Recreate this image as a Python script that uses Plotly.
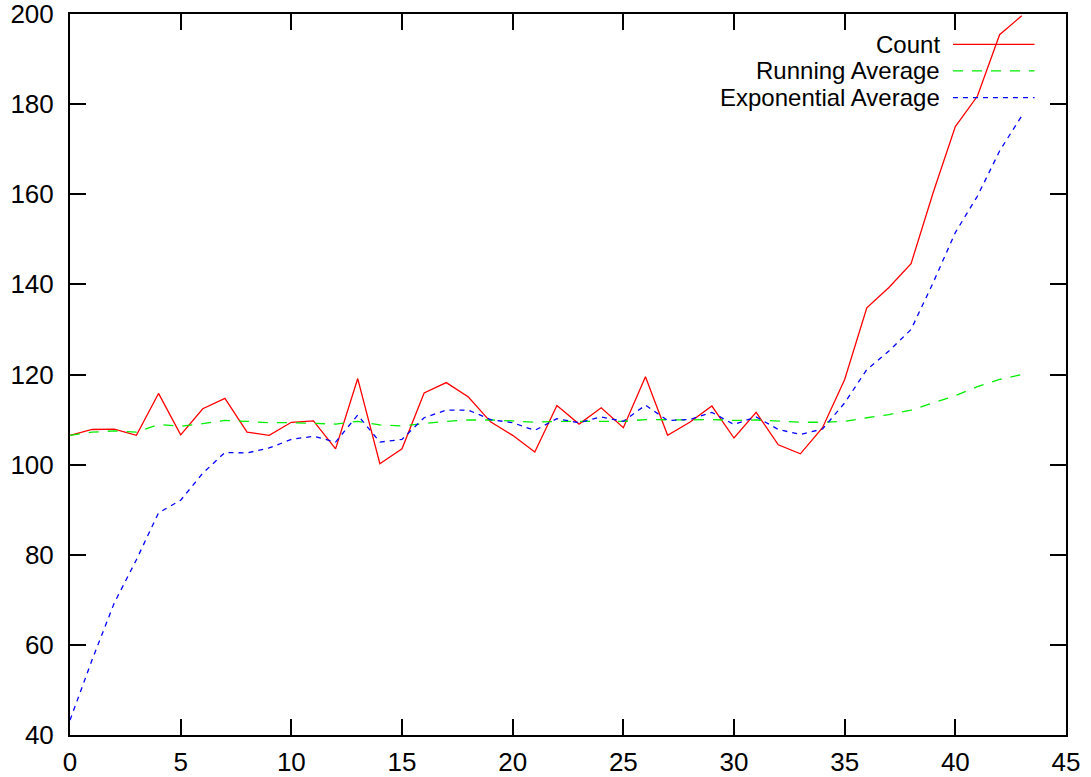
import plotly.graph_objects as go

# Sample index
steps = list(range(44))

# Raw counts per step
count = [106.5, 107.8, 107.9, 106.5, 115.8, 106.6, 112.4, 114.7, 107.2, 106.5,
         109.4, 109.7, 103.5, 119.1, 100.2, 103.5, 115.9, 118.2, 115.0, 109.5,
         106.5, 102.8, 113.1, 109.0, 112.6, 108.2, 119.5, 106.5, 109.4, 113.0,
         105.9, 111.6, 104.4, 102.4, 108.2, 118.9, 134.8, 139.3, 144.6, 160.4,
         175.0, 181.8, 195.4, 199.6]

# Running (cumulative) average
running_avg = [106.5, 107.2, 107.5, 107.2, 108.9, 108.5, 109.1, 109.8, 109.6, 109.3,
               109.3, 109.2, 109.0, 109.6, 108.8, 108.6, 109.1, 109.6, 109.9, 109.9,
               109.7, 109.4, 109.6, 109.6, 109.7, 109.6, 110.0, 109.9, 109.9, 110.0,
               109.8, 109.9, 109.7, 109.4, 109.4, 109.6, 110.4, 111.1, 112.1, 113.7,
               115.3, 117.3, 118.9, 120.0]

# Exponential moving average
exp_avg = [43.3, 56.7, 69.3, 78.9, 89.3, 92.1, 98.1, 102.7, 102.6, 103.7,
           105.6, 106.3, 105.0, 111.0, 105.0, 105.6, 110.4, 112.1, 112.1, 110.0,
           109.3, 107.6, 110.2, 109.3, 110.6, 109.6, 113.2, 109.8, 110.0, 111.6,
           108.9, 110.6, 107.8, 106.7, 107.9, 113.7, 121.1, 125.2, 130.0, 140.4,
           151.5, 159.6, 169.6, 177.4]

series_names = ["Count", "Running Average", "Exponential Average"]
series_colors = ["#ff0000", "#00ee00", "#0000ff"]
series_dash = ["solid", "10px,9px", "5px,5px"]
series_data = [count, running_avg, exp_avg]

x_ticks = list(range(0, 46, 5))
y_ticks = list(range(40, 201, 20))

FONT = "Liberation Sans, Arial, Helvetica, sans-serif"

fig = go.Figure()
for name, ys, color, dash in zip(series_names, series_data, series_colors, series_dash):
    fig.add_trace(go.Scatter(
        x=steps, y=ys, mode="lines", name=name, showlegend=False,
        line=dict(color=color, width=1.3, dash=dash),
    ))

# Key in the top-right corner: right-aligned labels with line samples after them
key_rows_y = [0.958, 0.921, 0.884]
for name, color, dash, ky in zip(series_names, series_colors, series_dash, key_rows_y):
    fig.add_annotation(
        xref="paper", yref="paper", x=0.8742, y=ky,
        text=name, showarrow=False, xanchor="right", yanchor="middle",
        borderpad=0,
        font=dict(family=FONT, size=24, color="black"),
    )
    fig.add_shape(
        type="line", xref="paper", yref="paper",
        x0=0.8865, x1=0.9684, y0=ky, y1=ky,
        line=dict(color=color, width=1.3, dash=dash),
    )

axis_common = dict(
    showgrid=False, zeroline=False, automargin=False,
    showline=True, linecolor="black", linewidth=2, mirror="ticks",
    ticks="inside", ticklen=16, tickwidth=2, tickcolor="black",
    ticklabeloverflow="allow",
    tickfont=dict(family=FONT, size=26, color="black"),
)

fig.update_layout(
    width=1091, height=777,
    margin=dict(l=70, r=25, t=14, b=42),
    paper_bgcolor="white", plot_bgcolor="white",
    xaxis=dict(range=[0, 45], tickvals=x_ticks, ticklabelstandoff=3, **axis_common),
    yaxis=dict(range=[40, 200], tickvals=y_ticks, ticklabelstandoff=9, **axis_common),
)

fig.write_html("out.html")
